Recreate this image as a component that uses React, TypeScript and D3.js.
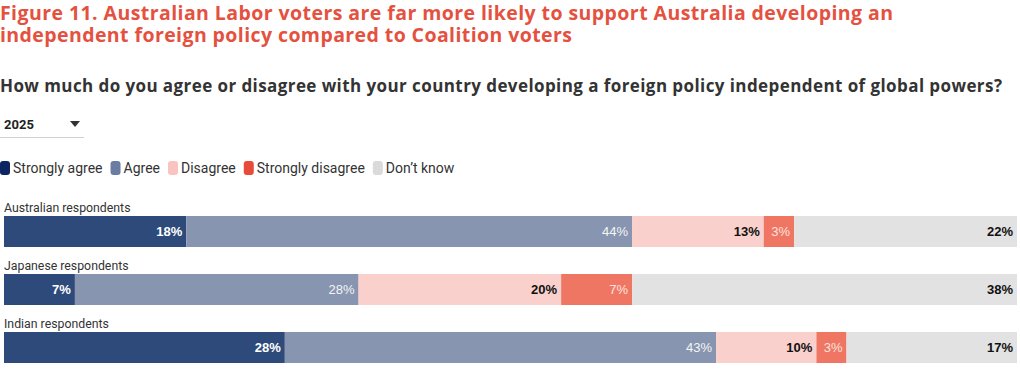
import React, { useEffect, useRef } from "react";
import * as d3 from "d3";

// chart data
const groups = ["Australian respondents", "Japanese respondents", "Indian respondents"];
const responses = ["Strongly agree", "Agree", "Disagree", "Strongly disagree", "Don\u2019t know"];
const stronglyAgree = [18, 7, 28];
const agree = [44, 28, 43];
const disagree = [13, 20, 10];
const stronglyDisagree = [3, 7, 3];
const dontKnow = [22, 38, 17];

const title = [
  "Figure 11. Australian Labor voters are far more likely to support Australia developing an",
  "independent foreign policy compared to Coalition voters",
];
const subtitle = "How much do you agree or disagree with your country developing a foreign policy independent of global powers?";
const year = "2025";

const legendColors = ["#0d2560", "#6a7ca2", "#f9c4c0", "#e84b3a", "#dadada"];
const barColors = ["#2e4a7b", "#8795b0", "#f9d0cc", "#f07664", "#e2e2e2"];
const labelColors = ["#ffffff", "#f4f4f4", "#111111", "#fbe3de", "#111111"];
const labelWeights = [600, 400, 700, 400, 700];

function App() {
  const ref = useRef<SVGSVGElement>(null);

  useEffect(() => {
    const width = 1020, height = 372;
    const svg = d3.select(ref.current);
    svg.selectAll("*").remove();

    // title, stretched to the width it takes in the original
    const titleFont = "'Open Sans', sans-serif";
    const titleWidths = [893, 572];
    svg.append("g")
      .selectAll("text")
      .data(title)
      .join("text")
      .attr("x", 0)
      .attr("y", (d, i) => 20 + i * 22)
      .attr("fill", "#e5513f")
      .attr("textLength", (d, i) => titleWidths[i])
      .attr("lengthAdjust", "spacing")
      .style("font-family", titleFont)
      .style("font-weight", 700)
      .style("font-size", "19.5px")
      .text(d => d);

    svg.append("text")
      .attr("x", 0)
      .attr("y", 92)
      .attr("fill", "#333333")
      .attr("textLength", 1002)
      .attr("lengthAdjust", "spacing")
      .style("font-family", titleFont)
      .style("font-weight", 700)
      .style("font-size", "17px")
      .text(subtitle);

    // year dropdown
    const dd = svg.append("g");
    dd.append("text")
      .attr("x", 4)
      .attr("y", 129)
      .attr("fill", "#222")
      .style("font-family", "Roboto, sans-serif")
      .style("font-weight", 700)
      .style("font-size", "13px")
      .text(year);
    dd.append("path")
      .attr("d", "M70,121 L80,121 L75,127 Z")
      .attr("fill", "#333");
    dd.append("line")
      .attr("x1", 0).attr("x2", 84)
      .attr("y1", 137.5).attr("y2", 137.5)
      .attr("stroke", "#d0d0d0");

    // legend
    const legend = svg.append("g").attr("transform", "translate(0,168)");
    let lx = 0;
    responses.forEach((r, i) => {
      legend.append("rect")
        .attr("x", lx).attr("y", -7)
        .attr("width", 10).attr("height", 14)
        .attr("rx", 3)
        .attr("fill", legendColors[i]);
      const t = legend.append("text")
        .attr("x", lx + 13)
        .attr("y", 5)
        .attr("fill", "#333")
        .style("font-family", "Roboto, sans-serif")
        .style("font-size", "14px")
        .text(r);
      const w = (t.node() as SVGTextElement).getComputedTextLength();
      lx += 13 + w + 8;
    });

    // bars
    const rows = groups.map((g, i) => ({
      group: g,
      "Strongly agree": stronglyAgree[i],
      "Agree": agree[i],
      "Disagree": disagree[i],
      "Strongly disagree": stronglyDisagree[i],
      "Don\u2019t know": dontKnow[i],
    }));

    const stack = d3.stack<any>().keys(responses).offset(d3.stackOffsetExpand);
    const series = stack(rows);

    const x = d3.scaleLinear().domain([0, 1]).range([4, 1017]);
    const y = d3.scaleBand().domain(groups).range([216, 363]).paddingInner(0.4655).paddingOuter(0);
    const bh = y.bandwidth();

    const plot = svg.append("g");

    plot.selectAll(".rowlabel")
      .data(groups)
      .join("text")
      .attr("class", "rowlabel")
      .attr("x", 4)
      .attr("y", d => (y(d) as number) - 4)
      .attr("fill", "#333")
      .style("font-family", "Roboto, sans-serif")
      .style("font-size", "12.3px")
      .text(d => d);

    const layer = plot.selectAll(".layer")
      .data(series)
      .join("g")
      .attr("class", "layer");

    layer.selectAll("rect")
      .data((s: any) => s.map((d: any) => ({ d, i: s.index })))
      .join("rect")
      .attr("x", (e: any) => x(e.d[0]))
      .attr("y", (e: any) => y(e.d.data.group) as number)
      .attr("width", (e: any) => x(e.d[1]) - x(e.d[0]))
      .attr("height", bh)
      .attr("fill", (e: any) => barColors[e.i]);

    layer.selectAll("text")
      .data((s: any) => s.map((d: any) => ({ d, i: s.index, v: d.data[s.key] })))
      .join("text")
      .attr("x", (e: any) => x(e.d[1]) - 4)
      .attr("y", (e: any) => (y(e.d.data.group) as number) + bh / 2 + 4.5)
      .attr("text-anchor", "end")
      .attr("fill", (e: any) => labelColors[e.i])
      .style("font-family", "'Liberation Sans', Arial, sans-serif")
      .style("font-size", "13px")
      .style("font-weight", (e: any) => labelWeights[e.i])
      .text((e: any) => e.v + "%");

    svg.attr("width", width).attr("height", height);
  }, []);

  return (
    <svg ref={ref} width={1020} height={372}
      style={{ position: "absolute", left: 0, top: 0, background: "#fff" }} />
  );
}

export default App;
